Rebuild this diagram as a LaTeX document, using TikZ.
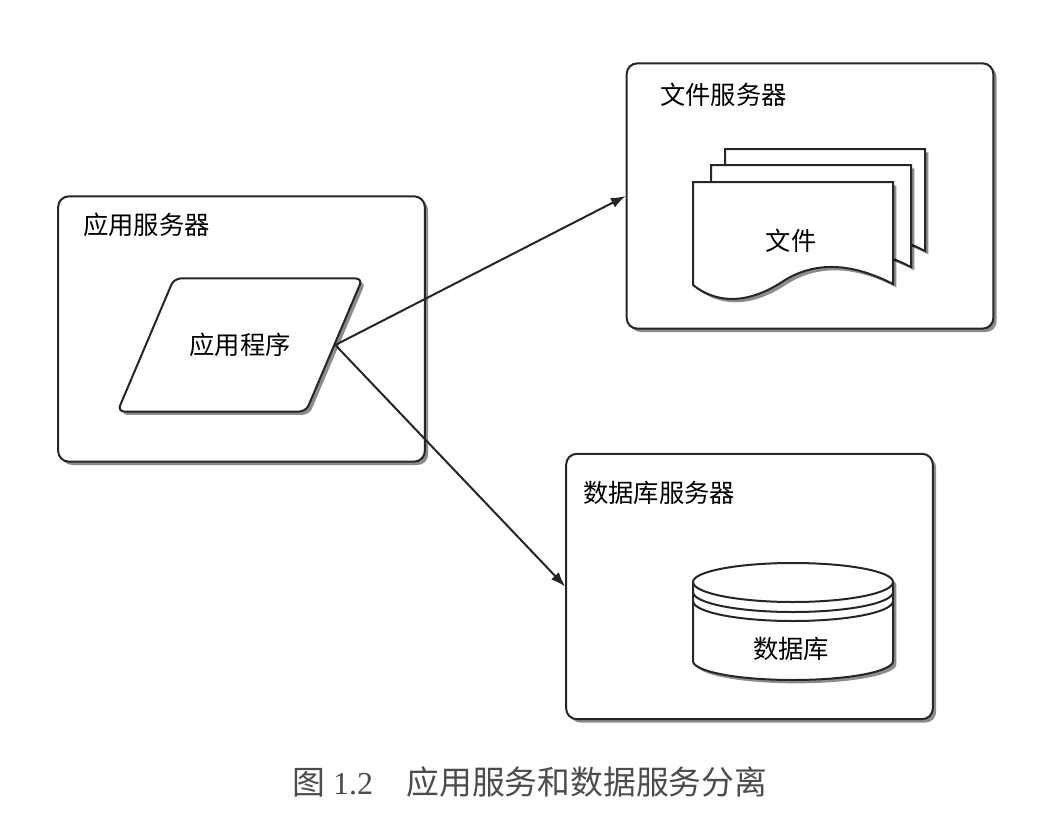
\documentclass[tikz,border=0pt]{standalone}
\usepackage{fontspec}
\setmainfont{Liberation Serif}
\newfontfamily\cjk{Noto Sans CJK SC}
\usetikzlibrary{arrows.meta,shapes,shapes.geometric,shadows}
\definecolor{inkline}{HTML}{262626}
\tikzset{
	softshadow/.style={drop shadow={shadow xshift=2.5pt,shadow yshift=-2.5pt,fill=black,opacity=.45}},
	serverbox/.style={draw=inkline,line width=1.5pt,rounded corners=8pt,fill=white,softshadow,minimum width=275pt,minimum height=199pt,inner sep=0pt},
	boxlabel/.style={font=\cjk\fontsize{19}{20}\selectfont,text=black,inner sep=0pt},
	appshape/.style={boxlabel,draw=inkline,line width=1.5pt,trapezium,trapezium left angle=67,trapezium right angle=113,inner xsep=11.5pt,inner ysep=41pt,rounded corners=5pt,fill=white,softshadow},
	docpage/.style={draw=inkline,line width=1.5pt,fill=white,softshadow},
	dbshape/.style={draw=inkline,line width=1.5pt,fill=white,softshadow},
	dbring/.style={draw=inkline,line width=1.5pt},
	link/.style={-{Latex[length=11pt,width=8pt]},draw=inkline,line width=1.5pt}
}
\begin{document}
\begin{tikzpicture}[x=0.75pt,y=-0.75pt]
	\useasboundingbox (0,0) rectangle (1060,814);
	%
	\node[serverbox] (appsrv) at (241.5,329) {};
	\node[serverbox] (filesrv) at (810,196) {};
	\node[serverbox] (dbsrv) at (749.5,586.5) {};
	\node[appshape] (app) at (240,345) {应用程序};
	%
	\foreach \dx/\dy in {32/-33,18/-17,0/0}
		\draw[docpage,shift={(\dx,\dy)}] (693,182) -- (893,182) -- (893,284)
			.. controls (850,262) and (815,262) .. (785,280)
			.. controls (760,297) and (725,310) .. (693,285) -- cycle;
	%
	\draw[dbshape] (693,582) -- (693,661) arc[start angle=180,end angle=0,x radius=100,y radius=19]
		-- (893,582) arc[start angle=0,end angle=-180,x radius=100,y radius=19] -- cycle;
	\foreach \ringy in {582,592,601}
		\draw[dbring] (693,\ringy) arc[start angle=180,end angle=0,x radius=100,y radius=20];
	%
	\node[boxlabel,anchor=west] (appsrvtext) at (83,225) {应用服务器};
	\node[boxlabel,anchor=west] (filesrvtext) at (660,95) {文件服务器};
	\node[boxlabel] (filetext) at (791,241) {文件};
	\node[boxlabel,anchor=west] (dbsrvtext) at (583,493) {数据库服务器};
	\node[boxlabel] (dbtext) at (791,649) {数据库};
	\node[anchor=west,inner sep=0pt,text=black!70,font=\fontsize{24}{26}\selectfont] (caption) at (292,782)
		{{\cjk\fontsize{24.6}{26}\selectfont 图}\hspace{6pt}1.2\hspace{25pt}{\cjk\fontsize{24.6}{26}\selectfont 应用服务和数据服务分离}};
	%
	\path
	(app.east) edge[link] (filesrv.west)
	(app.east) edge[link] (dbsrv.west);
\end{tikzpicture}
\end{document}
